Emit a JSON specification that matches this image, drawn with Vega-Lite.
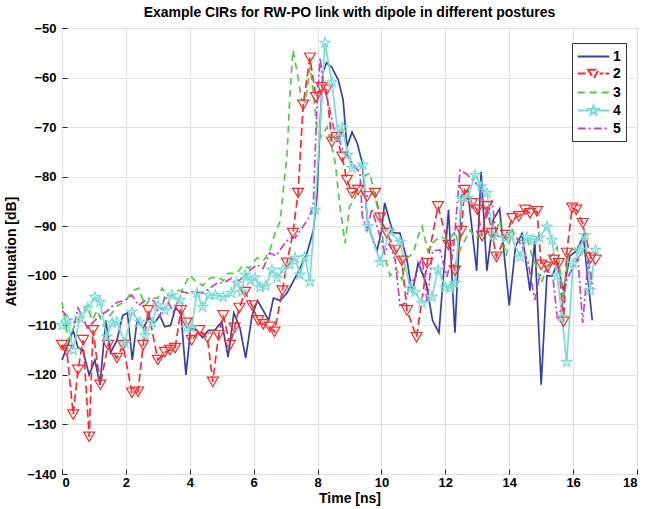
{
  "$schema": "https://vega.github.io/schema/vega-lite/v6.json",
  "width": 575,
  "height": 446,
  "autosize": "none",
  "padding": {"left": 62, "top": 28, "right": 13, "bottom": 35},
  "background": "white",
  "title": {"text": "Example CIRs for RW-PO link with dipole in different postures", "fontSize": 14, "fontWeight": "bold", "font": "Liberation Sans", "color": "#000", "offset": 2, "anchor": "middle"},
  "config": {
    "view": {"stroke": "#262626", "strokeWidth": 1},
    "axis": {"labelFont": "Liberation Sans", "titleFont": "Liberation Sans", "labelFontSize": 13, "labelFontWeight": "bold", "labelColor": "#000", "titleFontSize": 14, "titleFontWeight": "bold", "titleColor": "#000", "gridColor": "#E3E3E3", "gridWidth": 1, "domain": false, "tickColor": "#262626", "tickSize": -5}
  },
  "data": {"values": [
    {"s":"1","t":0.0,"v":-117},{"s":"1","t":0.18,"v":-114},{"s":"1","t":0.35,"v":-111},{"s":"1","t":0.5,"v":-114.5},{"s":"1","t":0.65,"v":-115},{"s":"1","t":0.85,"v":-120},{"s":"1","t":1.03,"v":-117},{"s":"1","t":1.19,"v":-122},{"s":"1","t":1.37,"v":-109},{"s":"1","t":1.52,"v":-115.5},{"s":"1","t":1.72,"v":-113},{"s":"1","t":1.9,"v":-108},{"s":"1","t":2.05,"v":-107.5},{"s":"1","t":2.2,"v":-117},{"s":"1","t":2.35,"v":-109},{"s":"1","t":2.54,"v":-110.5},{"s":"1","t":2.72,"v":-108.5},{"s":"1","t":2.9,"v":-109.5},{"s":"1","t":3.06,"v":-108},{"s":"1","t":3.22,"v":-110.3},{"s":"1","t":3.4,"v":-110},{"s":"1","t":3.55,"v":-106.5},{"s":"1","t":3.72,"v":-107.5},{"s":"1","t":3.88,"v":-120},{"s":"1","t":4.03,"v":-110.5},{"s":"1","t":4.22,"v":-111},{"s":"1","t":4.4,"v":-112.5},{"s":"1","t":4.58,"v":-111},{"s":"1","t":4.78,"v":-111},{"s":"1","t":5.0,"v":-109.3},{"s":"1","t":5.2,"v":-116.4},{"s":"1","t":5.38,"v":-107.5},{"s":"1","t":5.57,"v":-110.5},{"s":"1","t":5.75,"v":-116.6},{"s":"1","t":5.95,"v":-108},{"s":"1","t":6.12,"v":-105},{"s":"1","t":6.3,"v":-107},{"s":"1","t":6.47,"v":-109},{"s":"1","t":6.62,"v":-104.5},{"s":"1","t":6.83,"v":-105},{"s":"1","t":7.04,"v":-103.5},{"s":"1","t":7.25,"v":-101},{"s":"1","t":7.45,"v":-98.5},{"s":"1","t":7.67,"v":-95.4},{"s":"1","t":7.87,"v":-90.8},{"s":"1","t":7.98,"v":-84},{"s":"1","t":8.08,"v":-69.2},{"s":"1","t":8.17,"v":-59},{"s":"1","t":8.28,"v":-57},{"s":"1","t":8.45,"v":-58},{"s":"1","t":8.65,"v":-60.5},{"s":"1","t":8.8,"v":-64.5},{"s":"1","t":8.92,"v":-74},{"s":"1","t":9.08,"v":-71},{"s":"1","t":9.24,"v":-73.2},{"s":"1","t":9.4,"v":-77.2},{"s":"1","t":9.58,"v":-90},{"s":"1","t":9.86,"v":-95},{"s":"1","t":10.0,"v":-91},{"s":"1","t":10.1,"v":-85.3},{"s":"1","t":10.36,"v":-91.3},{"s":"1","t":10.58,"v":-91.4},{"s":"1","t":10.8,"v":-96.8},{"s":"1","t":10.96,"v":-103.5},{"s":"1","t":11.15,"v":-97.4},{"s":"1","t":11.4,"v":-101.5},{"s":"1","t":11.6,"v":-109},{"s":"1","t":11.8,"v":-111.5},{"s":"1","t":12.1,"v":-86.7},{"s":"1","t":12.3,"v":-111.5},{"s":"1","t":12.5,"v":-84},{"s":"1","t":12.7,"v":-82.7},{"s":"1","t":12.98,"v":-99},{"s":"1","t":13.12,"v":-79},{"s":"1","t":13.3,"v":-99},{"s":"1","t":13.5,"v":-88.7},{"s":"1","t":13.7,"v":-86.5},{"s":"1","t":14.0,"v":-106},{"s":"1","t":14.2,"v":-94},{"s":"1","t":14.4,"v":-91.5},{"s":"1","t":14.65,"v":-103},{"s":"1","t":14.8,"v":-93},{"s":"1","t":15.0,"v":-122},{"s":"1","t":15.18,"v":-100},{"s":"1","t":15.35,"v":-100},{"s":"1","t":15.5,"v":-97.5},{"s":"1","t":15.7,"v":-103},{"s":"1","t":15.9,"v":-96},{"s":"1","t":16.1,"v":-95},{"s":"1","t":16.32,"v":-92},{"s":"1","t":16.6,"v":-109},

    {"s":"2","t":0.0,"v":-114},{"s":"2","t":0.15,"v":-115},{"s":"2","t":0.35,"v":-128},{"s":"2","t":0.5,"v":-119},{"s":"2","t":0.66,"v":-113},{"s":"2","t":0.85,"v":-132.5},{"s":"2","t":0.97,"v":-111},{"s":"2","t":1.2,"v":-122},{"s":"2","t":1.44,"v":-114},{"s":"2","t":1.72,"v":-116.6},{"s":"2","t":1.91,"v":-114},{"s":"2","t":2.19,"v":-123.6},{"s":"2","t":2.38,"v":-123.4},{"s":"2","t":2.54,"v":-114},{"s":"2","t":2.7,"v":-107},{"s":"2","t":3.0,"v":-117},{"s":"2","t":3.22,"v":-115.4},{"s":"2","t":3.38,"v":-115},{"s":"2","t":3.54,"v":-114.6},{"s":"2","t":3.72,"v":-107},{"s":"2","t":3.9,"v":-109.5},{"s":"2","t":4.06,"v":-113},{"s":"2","t":4.3,"v":-111},{"s":"2","t":4.55,"v":-112.5},{"s":"2","t":4.72,"v":-121.4},{"s":"2","t":4.9,"v":-112},{"s":"2","t":5.05,"v":-108},{"s":"2","t":5.26,"v":-114},{"s":"2","t":5.4,"v":-110.5},{"s":"2","t":5.55,"v":-106.5},{"s":"2","t":5.73,"v":-103.3},{"s":"2","t":5.95,"v":-106},{"s":"2","t":6.14,"v":-109},{"s":"2","t":6.3,"v":-109.8},{"s":"2","t":6.5,"v":-110.3},{"s":"2","t":6.65,"v":-111.3},{"s":"2","t":6.9,"v":-103},{"s":"2","t":7.04,"v":-97.4},{"s":"2","t":7.23,"v":-91.4},{"s":"2","t":7.39,"v":-83.3},{"s":"2","t":7.55,"v":-65.5},{"s":"2","t":7.76,"v":-56},{"s":"2","t":7.95,"v":-64},{"s":"2","t":8.12,"v":-62},{"s":"2","t":8.28,"v":-62.5},{"s":"2","t":8.45,"v":-73},{"s":"2","t":8.6,"v":-72},{"s":"2","t":8.77,"v":-76},{"s":"2","t":8.92,"v":-80.7},{"s":"2","t":9.08,"v":-83.3},{"s":"2","t":9.27,"v":-82.7},{"s":"2","t":9.55,"v":-84},{"s":"2","t":9.8,"v":-83.3},{"s":"2","t":9.96,"v":-88.3},{"s":"2","t":10.17,"v":-91.4},{"s":"2","t":10.43,"v":-94.8},{"s":"2","t":10.64,"v":-97},{"s":"2","t":10.8,"v":-107},{"s":"2","t":11.1,"v":-112.4},{"s":"2","t":11.43,"v":-97.5},{"s":"2","t":11.77,"v":-86},{"s":"2","t":12.1,"v":-93.8},{"s":"2","t":12.3,"v":-99},{"s":"2","t":12.5,"v":-91},{"s":"2","t":12.6,"v":-82.7},{"s":"2","t":12.84,"v":-85.4},{"s":"2","t":13.0,"v":-86.7},{"s":"2","t":13.15,"v":-92},{"s":"2","t":13.3,"v":-86},{"s":"2","t":13.46,"v":-91.4},{"s":"2","t":13.6,"v":-96.2},{"s":"2","t":13.9,"v":-91.8},{"s":"2","t":14.1,"v":-88.4},{"s":"2","t":14.3,"v":-88},{"s":"2","t":14.5,"v":-86.7},{"s":"2","t":14.65,"v":-87.4},{"s":"2","t":14.87,"v":-87},{"s":"2","t":15.0,"v":-97.8},{"s":"2","t":15.2,"v":-98.2},{"s":"2","t":15.4,"v":-96.8},{"s":"2","t":15.55,"v":-97.5},{"s":"2","t":15.7,"v":-109.3},{"s":"2","t":15.8,"v":-95.4},{"s":"2","t":15.97,"v":-86.3},{"s":"2","t":16.1,"v":-86.7},{"s":"2","t":16.3,"v":-89.4},{"s":"2","t":16.55,"v":-96.4},{"s":"2","t":16.7,"v":-96.8},

    {"s":"3","t":0.0,"v":-105.3},{"s":"3","t":0.2,"v":-113},{"s":"3","t":0.4,"v":-110},{"s":"3","t":0.6,"v":-108},{"s":"3","t":0.78,"v":-106},{"s":"3","t":0.95,"v":-109},{"s":"3","t":1.1,"v":-107},{"s":"3","t":1.3,"v":-110},{"s":"3","t":1.5,"v":-108},{"s":"3","t":1.75,"v":-106},{"s":"3","t":2.0,"v":-105},{"s":"3","t":2.2,"v":-103},{"s":"3","t":2.4,"v":-102.5},{"s":"3","t":2.6,"v":-106},{"s":"3","t":2.8,"v":-104.5},{"s":"3","t":3.0,"v":-104.5},{"s":"3","t":3.13,"v":-102.5},{"s":"3","t":3.3,"v":-104},{"s":"3","t":3.44,"v":-104},{"s":"3","t":3.6,"v":-103},{"s":"3","t":3.75,"v":-103},{"s":"3","t":4.0,"v":-99.8},{"s":"3","t":4.16,"v":-101},{"s":"3","t":4.4,"v":-102},{"s":"3","t":4.63,"v":-100.5},{"s":"3","t":4.88,"v":-100.2},{"s":"3","t":5.05,"v":-101},{"s":"3","t":5.2,"v":-99.5},{"s":"3","t":5.48,"v":-99.5},{"s":"3","t":5.67,"v":-97.8},{"s":"3","t":5.85,"v":-98.5},{"s":"3","t":6.1,"v":-96.4},{"s":"3","t":6.3,"v":-97},{"s":"3","t":6.5,"v":-95},{"s":"3","t":6.67,"v":-91.4},{"s":"3","t":6.83,"v":-89},{"s":"3","t":6.92,"v":-83},{"s":"3","t":7.04,"v":-76},{"s":"3","t":7.14,"v":-63},{"s":"3","t":7.23,"v":-54.4},{"s":"3","t":7.35,"v":-58.5},{"s":"3","t":7.5,"v":-64.5},{"s":"3","t":7.62,"v":-65},{"s":"3","t":7.76,"v":-57.9},{"s":"3","t":7.87,"v":-63},{"s":"3","t":7.98,"v":-70},{"s":"3","t":8.1,"v":-72},{"s":"3","t":8.3,"v":-70},{"s":"3","t":8.55,"v":-77},{"s":"3","t":8.7,"v":-86},{"s":"3","t":8.86,"v":-93.4},{"s":"3","t":9.0,"v":-86},{"s":"3","t":9.17,"v":-84.3},{"s":"3","t":9.42,"v":-80},{"s":"3","t":9.64,"v":-79.3},{"s":"3","t":9.8,"v":-84},{"s":"3","t":10.0,"v":-90},{"s":"3","t":10.1,"v":-96},{"s":"3","t":10.27,"v":-100},{"s":"3","t":10.45,"v":-98.5},{"s":"3","t":10.64,"v":-100.8},{"s":"3","t":10.8,"v":-96.5},{"s":"3","t":11.0,"v":-95.4},{"s":"3","t":11.15,"v":-92},{"s":"3","t":11.27,"v":-90},{"s":"3","t":11.45,"v":-95},{"s":"3","t":11.6,"v":-93.4},{"s":"3","t":11.85,"v":-92},{"s":"3","t":12.1,"v":-93},{"s":"3","t":12.3,"v":-91},{"s":"3","t":12.46,"v":-94.8},{"s":"3","t":12.77,"v":-90.8},{"s":"3","t":12.95,"v":-92.5},{"s":"3","t":13.3,"v":-91},{"s":"3","t":13.5,"v":-93},{"s":"3","t":13.7,"v":-88.7},{"s":"3","t":13.9,"v":-96},{"s":"3","t":14.1,"v":-90.8},{"s":"3","t":14.3,"v":-93},{"s":"3","t":14.55,"v":-92.4},{"s":"3","t":14.72,"v":-96},{"s":"3","t":14.87,"v":-98.5},{"s":"3","t":15.0,"v":-101.5},{"s":"3","t":15.3,"v":-96.2},{"s":"3","t":15.5,"v":-94.2},{"s":"3","t":15.7,"v":-104.9},{"s":"3","t":15.85,"v":-95.4},{"s":"3","t":16.05,"v":-94.5},{"s":"3","t":16.2,"v":-96},{"s":"3","t":16.4,"v":-94.2},{"s":"3","t":16.6,"v":-100.8},

    {"s":"4","t":0.0,"v":-110},{"s":"4","t":0.18,"v":-109},{"s":"4","t":0.35,"v":-115},{"s":"4","t":0.56,"v":-108.5},{"s":"4","t":0.81,"v":-106.5},{"s":"4","t":1.03,"v":-104.3},{"s":"4","t":1.19,"v":-105.3},{"s":"4","t":1.4,"v":-112.3},{"s":"4","t":1.57,"v":-109.5},{"s":"4","t":1.72,"v":-109.3},{"s":"4","t":1.97,"v":-113.6},{"s":"4","t":2.19,"v":-107.3},{"s":"4","t":2.44,"v":-109.3},{"s":"4","t":2.6,"v":-112},{"s":"4","t":2.82,"v":-109.5},{"s":"4","t":3.0,"v":-106},{"s":"4","t":3.22,"v":-107},{"s":"4","t":3.44,"v":-103.9},{"s":"4","t":3.7,"v":-104.9},{"s":"4","t":3.9,"v":-110.5},{"s":"4","t":4.06,"v":-110.5},{"s":"4","t":4.22,"v":-103.5},{"s":"4","t":4.4,"v":-106.3},{"s":"4","t":4.6,"v":-103.9},{"s":"4","t":4.8,"v":-103.9},{"s":"4","t":5.05,"v":-104.3},{"s":"4","t":5.3,"v":-103.5},{"s":"4","t":5.47,"v":-101.5},{"s":"4","t":5.63,"v":-103.2},{"s":"4","t":5.73,"v":-99.8},{"s":"4","t":5.9,"v":-101},{"s":"4","t":6.04,"v":-100.4},{"s":"4","t":6.2,"v":-102.3},{"s":"4","t":6.38,"v":-102},{"s":"4","t":6.57,"v":-98.8},{"s":"4","t":6.73,"v":-100.4},{"s":"4","t":6.92,"v":-98.8},{"s":"4","t":7.14,"v":-97.8},{"s":"4","t":7.3,"v":-96.4},{"s":"4","t":7.45,"v":-99.8},{"s":"4","t":7.6,"v":-96.2},{"s":"4","t":7.76,"v":-101.2},{"s":"4","t":7.92,"v":-86.7},{"s":"4","t":8.23,"v":-53},{"s":"4","t":8.45,"v":-61},{"s":"4","t":8.65,"v":-72},{"s":"4","t":8.77,"v":-70},{"s":"4","t":8.95,"v":-75.6},{"s":"4","t":9.08,"v":-78.3},{"s":"4","t":9.42,"v":-77.6},{"s":"4","t":9.58,"v":-90},{"s":"4","t":9.96,"v":-97.2},{"s":"4","t":10.27,"v":-91},{"s":"4","t":10.58,"v":-93.2},{"s":"4","t":10.9,"v":-102.5},{"s":"4","t":11.05,"v":-103.3},{"s":"4","t":11.27,"v":-105.5},{"s":"4","t":11.58,"v":-104.3},{"s":"4","t":11.77,"v":-98.8},{"s":"4","t":12.0,"v":-102.3},{"s":"4","t":12.15,"v":-102.5},{"s":"4","t":12.3,"v":-101.5},{"s":"4","t":12.5,"v":-84.3},{"s":"4","t":12.7,"v":-84.3},{"s":"4","t":12.93,"v":-79.7},{"s":"4","t":13.12,"v":-82},{"s":"4","t":13.3,"v":-83.3},{"s":"4","t":13.5,"v":-91.8},{"s":"4","t":13.87,"v":-92.4},{"s":"4","t":14.05,"v":-91.8},{"s":"4","t":14.34,"v":-96.2},{"s":"4","t":14.55,"v":-92.2},{"s":"4","t":14.75,"v":-92.8},{"s":"4","t":14.95,"v":-92.3},{"s":"4","t":15.18,"v":-90.1},{"s":"4","t":15.34,"v":-92.8},{"s":"4","t":15.5,"v":-100},{"s":"4","t":15.65,"v":-108.3},{"s":"4","t":15.8,"v":-117.4},{"s":"4","t":16.0,"v":-97.5},{"s":"4","t":16.2,"v":-94.8},{"s":"4","t":16.37,"v":-91.8},{"s":"4","t":16.53,"v":-102.9},{"s":"4","t":16.7,"v":-94.8},

    {"s":"5","t":0.0,"v":-107},{"s":"5","t":0.2,"v":-108.5},{"s":"5","t":0.4,"v":-109.5},{"s":"5","t":0.5,"v":-106.5},{"s":"5","t":0.62,"v":-108},{"s":"5","t":0.82,"v":-111},{"s":"5","t":0.95,"v":-109.5},{"s":"5","t":1.2,"v":-108},{"s":"5","t":1.44,"v":-107},{"s":"5","t":1.6,"v":-106},{"s":"5","t":1.75,"v":-105.3},{"s":"5","t":1.95,"v":-105},{"s":"5","t":2.19,"v":-103.9},{"s":"5","t":2.4,"v":-106},{"s":"5","t":2.6,"v":-105},{"s":"5","t":2.75,"v":-104.5},{"s":"5","t":2.9,"v":-105.3},{"s":"5","t":3.07,"v":-108.3},{"s":"5","t":3.22,"v":-104},{"s":"5","t":3.48,"v":-107.3},{"s":"5","t":3.76,"v":-103.2},{"s":"5","t":3.94,"v":-103.5},{"s":"5","t":4.22,"v":-103.3},{"s":"5","t":4.4,"v":-103.5},{"s":"5","t":4.63,"v":-102.5},{"s":"5","t":4.85,"v":-101.5},{"s":"5","t":5.1,"v":-101.3},{"s":"5","t":5.3,"v":-100.5},{"s":"5","t":5.45,"v":-101.5},{"s":"5","t":5.67,"v":-100.2},{"s":"5","t":5.9,"v":-98.8},{"s":"5","t":6.1,"v":-97.8},{"s":"5","t":6.3,"v":-98.5},{"s":"5","t":6.5,"v":-95.4},{"s":"5","t":6.7,"v":-96},{"s":"5","t":6.98,"v":-93.4},{"s":"5","t":7.14,"v":-92.4},{"s":"5","t":7.3,"v":-92.3},{"s":"5","t":7.55,"v":-90},{"s":"5","t":7.76,"v":-88},{"s":"5","t":7.87,"v":-85.3},{"s":"5","t":7.92,"v":-76},{"s":"5","t":7.98,"v":-66},{"s":"5","t":8.08,"v":-56},{"s":"5","t":8.17,"v":-61},{"s":"5","t":8.33,"v":-65},{"s":"5","t":8.5,"v":-70},{"s":"5","t":8.8,"v":-74.6},{"s":"5","t":9.08,"v":-77.2},{"s":"5","t":9.33,"v":-79.3},{"s":"5","t":9.4,"v":-88},{"s":"5","t":9.55,"v":-90.8},{"s":"5","t":9.7,"v":-86.5},{"s":"5","t":9.96,"v":-92.2},{"s":"5","t":10.1,"v":-95.4},{"s":"5","t":10.25,"v":-93.5},{"s":"5","t":10.43,"v":-96.8},{"s":"5","t":10.58,"v":-106},{"s":"5","t":10.75,"v":-105.5},{"s":"5","t":10.9,"v":-101},{"s":"5","t":11.05,"v":-100.8},{"s":"5","t":11.27,"v":-96.2},{"s":"5","t":11.43,"v":-105.5},{"s":"5","t":11.6,"v":-95},{"s":"5","t":11.83,"v":-94.8},{"s":"5","t":12.05,"v":-100.2},{"s":"5","t":12.25,"v":-95},{"s":"5","t":12.46,"v":-78.7},{"s":"5","t":12.67,"v":-79.5},{"s":"5","t":12.87,"v":-80.7},{"s":"5","t":13.05,"v":-82},{"s":"5","t":13.3,"v":-88},{"s":"5","t":13.46,"v":-84.7},{"s":"5","t":13.6,"v":-92},{"s":"5","t":13.8,"v":-92},{"s":"5","t":14.0,"v":-91.4},{"s":"5","t":14.2,"v":-92},{"s":"5","t":14.43,"v":-94.4},{"s":"5","t":14.6,"v":-97.5},{"s":"5","t":14.8,"v":-104.9},{"s":"5","t":14.95,"v":-100},{"s":"5","t":15.18,"v":-98.8},{"s":"5","t":15.37,"v":-100.4},{"s":"5","t":15.5,"v":-108.3},{"s":"5","t":15.65,"v":-106.5},{"s":"5","t":15.8,"v":-100.8},{"s":"5","t":16.0,"v":-98.2},{"s":"5","t":16.15,"v":-96.5},{"s":"5","t":16.3,"v":-109.5},{"s":"5","t":16.47,"v":-96.8},{"s":"5","t":16.63,"v":-102.9}
  ]},
  "encoding": {
    "x": {"field": "t", "type": "quantitative", "scale": {"domain": [0, 18], "nice": false}, "axis": {"values": [0,2,4,6,8,10,12,14,16,18], "title": "Time [ns]", "titlePadding": 2, "labelPadding": 7}},
    "y": {"field": "v", "type": "quantitative", "scale": {"domain": [-140, -50], "nice": false}, "axis": {"values": [-140,-130,-120,-110,-100,-90,-80,-70,-60,-50], "title": "Attenuation [dB]", "titlePadding": 8, "labelPadding": 11}}
  },
  "layer": [
    {
      "mark": {"type": "line", "strokeWidth": 1.7},
      "encoding": {
        "color": {"field": "s", "type": "nominal", "scale": {"domain": ["1","2","3","4","5"], "range": ["#3341A6", "#FF2B2B", "#55CC47", "#7ADCD6", "#C044C4"]},
          "legend": {"orient": "none", "legendX": 510, "legendY": 15, "title": null, "strokeColor": "#333333", "fillColor": "white", "padding": 5, "symbolType": "stroke", "symbolSize": 225, "symbolStrokeWidth": 2, "symbolOffset": 8, "labelFont": "Liberation Sans", "labelFontSize": 14, "labelFontWeight": "bold", "labelColor": "#000", "rowPadding": 1, "labelOffset": 11,
            "encode": {"symbols": {"update": {
              "shape": {"signal": "datum.value=='2' ? 'M-2.1,0H-0.8M0.8,0H1.3M1.6,0H2.1M-0.7,-0.5H0.7L0,0.7Z' : datum.value=='4' ? 'M-2.1,0H-0.6M0.6,0H2.1M0,-0.65L0.16,-0.2L0.62,-0.2L0.25,0.08L0.38,0.53L0,0.26L-0.38,0.53L-0.25,0.08L-0.62,-0.2L-0.16,-0.2Z' : 'M-2.1,0H2.1'"},
              "strokeDash": {"signal": "datum.value=='3' ? [7,5] : datum.value=='5' ? [8,3,2,3] : [1,0]"},
              "fill": {"value": "transparent"}
            }}}}},
        "strokeDash": {"field": "s", "type": "nominal", "scale": {"domain": ["1","2","3","4","5"], "range": [[1,0],[8,4],[7,5],[1,0],[8,3,2,3]]}, "legend": null}
      }
    },
    {
      "transform": [{"filter": "datum.s == '2'"}],
      "mark": {"type": "point", "shape": "triangle-down", "filled": false, "size": 120, "color": "#FF2B2B", "strokeWidth": 1.2, "opacity": 1}
    },
    {
      "transform": [{"filter": "datum.s == '4'"}],
      "mark": {"type": "point", "shape": "M0,-1L0.24,-0.31L0.95,-0.31L0.38,0.12L0.59,0.81L0,0.4L-0.59,0.81L-0.38,0.12L-0.95,-0.31L-0.24,-0.31Z", "filled": false, "size": 110, "color": "#7ADCD6", "strokeWidth": 1.2, "opacity": 1}
    }
  ]
}
